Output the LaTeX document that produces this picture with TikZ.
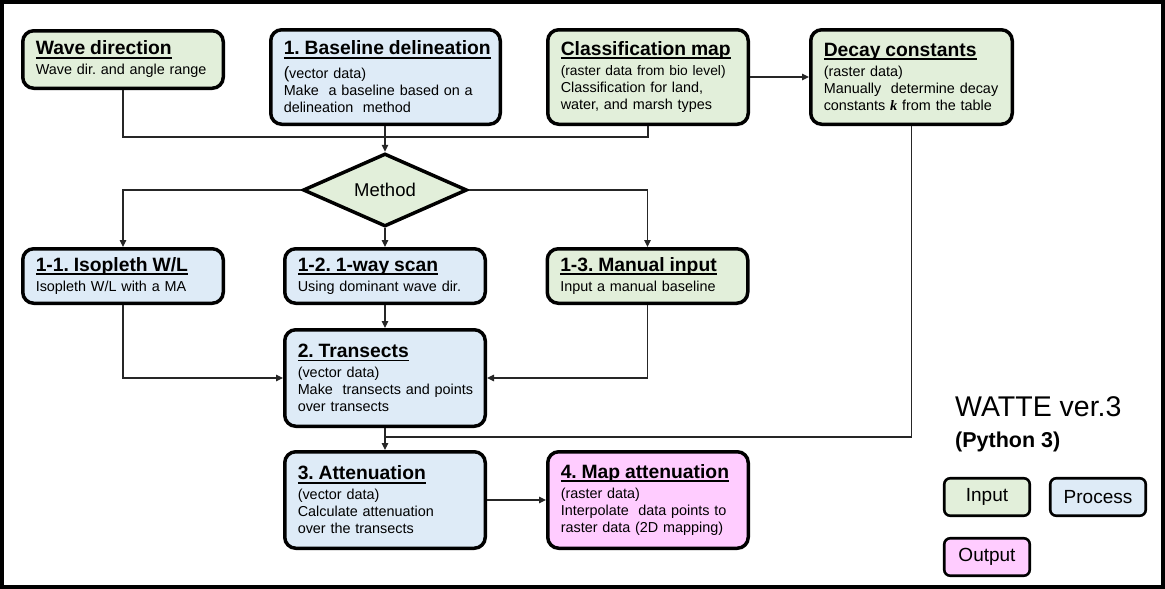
\documentclass[tikz,border=0pt]{standalone}
\usepackage{fontspec}
\setmainfont{Liberation Sans}
\newfontfamily\kfont{Liberation Serif}
\usetikzlibrary{arrows.meta,shapes.geometric}
\definecolor{cin}{HTML}{E2EFDA}
\definecolor{cpr}{HTML}{DEEBF7}
\definecolor{cout}{HTML}{FFCCFF}
\frenchspacing
\newcommand\myul[1]{\setbox0\hbox{#1}\makebox[0pt][l]{\rule[-3.6pt]{\wd0}{1.7pt}}\box0}
\newcommand\ttl[1]{{\fontsize{19.3}{22}\selectfont\bfseries\myul{#1}}}
\begin{document}
\begin{tikzpicture}[x=1pt,y=-1pt,
  box/.style={draw=black, line width=3.5pt, rounded corners=11pt, align=left,
    inner xsep=13pt, inner ysep=0pt, font=\fontsize{14.4}{17}\selectfont\frenchspacing},
  w204/.style={minimum width=200.5pt, text width=174.5pt},
  w233/.style={minimum width=229.5pt, text width=203.5pt},
  w205/.style={minimum width=201.5pt, text width=175.5pt},
  h61/.style={minimum height=57.5pt},
  h98/.style={minimum height=94.5pt},
  h58/.style={minimum height=54.5pt},
  h100/.style={minimum height=96.5pt},
  leg/.style={draw=black, line width=2.6pt, rounded corners=6pt, inner sep=0pt,
    minimum height=37.5pt, font=\fontsize{19}{21}\selectfont},
  conn/.style={line width=1.1pt, draw=black!85},
  arr/.style={conn, -{Triangle[length=7pt,width=6.5pt]}}]
\useasboundingbox (0,0) rectangle (1165,589);
\draw[line width=4pt] (2,2) rectangle (1163,587);

\node[box, w204, h61, fill=cin] (wave) at (123,59.5)
  {\ttl{Wave direction}\\[3pt]Wave dir. and angle range};
\node[box, w233, h98, fill=cpr] (base) at (385.5,77)
  {\ttl{1. Baseline delineation}\\[7pt]{\fontsize{16.5}{17}\selectfont(}vector data)\\\mbox{Make\ \ a baseline based on a}\\delineation\ \ method};
\node[box, w204, h98, fill=cin] (cls) at (648,77)
  {\ttl{Classification map}\\[3pt]\mbox{\fontsize{13.8}{17}\selectfont(raster data from bio level)}\\Classification for land,\\water, and marsh types};
\node[box, w205, h98, fill=cin] (decay) at (911.5,77)
  {\ttl{Decay constants}\\[3pt](raster data)\\\mbox{Manually\ \ determine decay}\\\mbox{constants {\kfont\bfseries\itshape k} from the table}};

\node[diamond, draw=black, line width=3.5pt, fill=cin, inner sep=0pt, aspect=2.2,
  minimum width=164pt, minimum height=73pt, font=\fontsize{18.5}{20}\selectfont] (method) at (385,190) {Method};

\node[box, w204, h58, fill=cpr] (iso) at (123,276)
  {\ttl{1-1. Isopleth W/L}\\[3pt]Isopleth W/L with a MA};
\node[box, w204, h58, fill=cpr] (scan) at (385,276)
  {\ttl{1-2. 1-way scan}\\[3pt]Using dominant wave dir.};
\node[box, w204, h58, fill=cin] (man) at (647.5,276)
  {\ttl{1-3. Manual input}\\[3pt]Input a manual baseline};

\node[box, w204, h100, fill=cpr] (tran) at (385,378)
  {\ttl{2. Transects}\\[3pt](vector data)\\\mbox{Make\ \ transects and points}\\over transects};
\node[box, w204, h100, fill=cpr] (att) at (385,500)
  {\ttl{3. Attenuation}\\[3pt](vector data)\\Calculate attenuation\\over the transects};
\node[box, w204, h100, fill=cout] (map) at (648,500)
  {\ttl{4. Map attenuation}\\[3pt](raster data)\\\mbox{Interpolate\ \ data points to}\\\mbox{raster data (2D mapping)}};

\node[anchor=base west, inner sep=0pt, font=\fontsize{28.5}{30}\selectfont] (title) at (955,416) {WATTE ver.3};
\node[anchor=base west, inner sep=0pt, font=\fontsize{21.5}{23}\selectfont\bfseries] (py) at (955,447) {(Python 3)};
\node[leg, fill=cin, minimum width=85.5pt] (lin) at (987,497) {Input};
\node[leg, fill=cpr, minimum width=95.5pt] (lpr) at (1098,497) {Process};
\node[leg, fill=cout, minimum width=85.5pt] (lout) at (987,557) {Output};

\coordinate (j1) at (385,137);
\coordinate (j2) at (385,437);
\draw[conn] (wave.south) |- (j1);
\draw[conn] (cls.south) |- (j1);
\draw[arr] (base.south -| method.north) -- (method.north);
\draw[arr] (cls.east) -- (decay.west);
\draw[arr] (method.west) -| (iso.north);
\draw[arr] (method.east) -| (man.north);
\draw[arr] (method.south) -- (scan.north);
\draw[arr] (iso.south) |- (tran.west);
\draw[arr] (man.south) |- (tran.east);
\draw[arr] (scan.south) -- (tran.north);
\draw[arr] (tran.south) -- (att.north);
\draw[conn] (decay.south) |- (j2);
\draw[arr] (att.east) -- (map.west);
\end{tikzpicture}
\end{document}
